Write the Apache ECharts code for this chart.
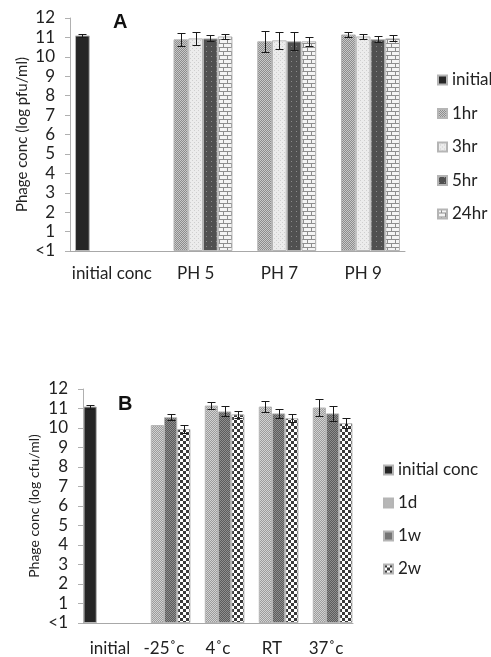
<!DOCTYPE html>
<html><head><meta charset="utf-8">
<script src="https://cdn.jsdelivr.net/npm/echarts@6/dist/echarts.min.js"></script>
<style>html,body{margin:0;padding:0;background:#fff}#c{width:491px;height:657px}</style>
</head><body><div id="c"></div>
<script>
// ---------- Data ----------
const catsA = ['initial conc', 'PH 5', 'PH 7', 'PH 9'];
const namesA = ['initial', '1hr', '3hr', '5hr', '24hr'];
const valA_initial = [11.1, null, null, null];
const valA_1hr  = [null, 10.9, 10.8, 11.15];
const valA_3hr  = [null, 10.95, 10.85, 11.05];
const valA_5hr  = [null, 10.95, 10.8, 10.9];
const valA_24hr = [null, 11.05, 10.8, 10.95];
const errA_initial = [0.1, null, null, null];
const errA_1hr  = [null, 0.35, 0.55, 0.15];
const errA_3hr  = [null, 0.33, 0.45, 0.15];
const errA_5hr  = [null, 0.15, 0.47, 0.15];
const errA_24hr = [null, 0.13, 0.22, 0.15];

const catsB = ['initial', '-25˚c', '4˚c', 'RT', '37˚c'];
const namesB = ['initial conc', '1d', '1w', '2w'];
const valB_initial = [11.1, null, null, null, null];
const valB_1d = [null, 10.15, 11.15, 11.1, 11.05];
const valB_1w = [null, 10.55, 10.85, 10.75, 10.75];
const valB_2w = [null, 9.95, 10.7, 10.5, 10.25];
const errB_initial = [0.1, null, null, null, null];
const errB_1d = [null, 0, 0.17, 0.3, 0.45];
const errB_1w = [null, 0.15, 0.26, 0.23, 0.38];
const errB_2w = [null, 0.22, 0.17, 0.2, 0.25];

const yTicks = ['<1', '1', '2', '3', '4', '5', '6', '7', '8', '9', '10', '11', '12'];

// ---------- Patterns ----------
function pat(w, h, draw) {
  const c = document.createElement('canvas'); c.width = w; c.height = h;
  const g = c.getContext('2d'); draw(g, w, h);
  return { image: c, repeat: 'repeat' };
}
function checker(a, b, s) {
  return pat(2 * s, 2 * s, (g) => {
    g.fillStyle = a; g.fillRect(0, 0, 2 * s, 2 * s);
    g.fillStyle = b; g.fillRect(0, 0, s, s); g.fillRect(s, s, s, s);
  });
}
const fillInitial = '#262626';
const fill1hr = checker('#8c8c8c', '#c9c9c9', 1);
const fill3hr = pat(4, 4, (g) => { g.fillStyle = '#ececec'; g.fillRect(0, 0, 4, 4); g.fillStyle = '#cfcfcf'; g.fillRect(0, 0, 1, 1); g.fillRect(2, 2, 1, 1); });
const fill5hr = pat(5, 5, (g) => { g.fillStyle = '#505050'; g.fillRect(0, 0, 5, 5); g.fillStyle = '#8a8a8a'; g.fillRect(1, 1, 1, 1); });
const fill24hr = pat(8, 8, (g) => {
  g.fillStyle = '#f4f4f4'; g.fillRect(0, 0, 8, 8);
  g.fillStyle = '#8e8e8e';
  g.fillRect(0, 3, 8, 1); g.fillRect(0, 7, 8, 1);
  g.fillRect(3, 0, 1, 3); g.fillRect(7, 4, 1, 3);
});
const fill1d = checker('#9c9c9c', '#d2d2d2', 1);
const fill1w = checker('#5c5c5c', '#8e8e8e', 1);
const fill2w = checker('#ffffff', '#3a3a3a', 3);

const fillsA = [fillInitial, fill1hr, fill3hr, fill5hr, fill24hr];
const fillsB = [fillInitial, fill1d, fill1w, fill2w];
const valsA = [valA_initial, valA_1hr, valA_3hr, valA_5hr, valA_24hr];
const errsA = [errA_initial, errA_1hr, errA_3hr, errA_5hr, errA_24hr];
const valsB = [valB_initial, valB_1d, valB_1w, valB_2w];
const errsB = [errB_initial, errB_1d, errB_1w, errB_2w];

const FONT = 'Lato';
const TXT = '#222';
const gapA = 0.12, gapB = 0.02;

function errSeries(vals, errs, idx, n, gap, axisIdx, nm) {
  const data = [];
  vals.forEach((v, i) => { if (v != null && errs[i] != null) data.push([i, v, errs[i]]); });
  return {
    type: 'custom', name: nm, xAxisIndex: axisIdx, yAxisIndex: axisIdx, z: 10,
    silent: true, data: data, encode: { x: 0, y: 1 },
    renderItem: function (params, api) {
      const x = api.value(0), y = api.value(1), e = api.value(2);
      if (!e) return null;
      const band = api.size([1, 0])[0];
      const bw = band * (1 - gap) / n;
      const off = -band * (1 - gap) / 2 + bw * (idx + 0.5);
      const t = api.coord([x, y + e]), b = api.coord([x, y - e]);
      const cx = Math.round(t[0] + off) + 0.5;
      const ty = Math.round(t[1]) + 0.5, by = Math.round(b[1]) + 0.5;
      const cw = 4;
      const st = { stroke: '#1a1a1a', lineWidth: 1, fill: null };
      return { type: 'group', children: [
        { type: 'line', shape: { x1: cx, y1: ty, x2: cx, y2: by }, style: st },
        { type: 'line', shape: { x1: cx - cw, y1: ty, x2: cx + cw, y2: ty }, style: st },
        { type: 'line', shape: { x1: cx - cw, y1: by, x2: cx + cw, y2: by }, style: st }
      ]};
    }
  };
}

const series = [];
namesA.forEach((nm, i) => {
  series.push({ type: 'bar', name: nm, xAxisIndex: 0, yAxisIndex: 0, data: valsA[i],
    barGap: '0%', barCategoryGap: (gapA * 100) + '%',
    itemStyle: { color: fillsA[i], borderColor: '#b5b5b5', borderWidth: 1 } });
});
namesA.forEach((nm, i) => series.push(errSeries(valsA[i], errsA[i], i, namesA.length, gapA, 0, 'errA' + i)));
namesB.forEach((nm, i) => {
  series.push({ type: 'bar', name: nm, xAxisIndex: 1, yAxisIndex: 1, data: valsB[i],
    barGap: '0%', barCategoryGap: (gapB * 100) + '%',
    itemStyle: { color: fillsB[i], borderColor: '#b5b5b5', borderWidth: 1 } });
});
namesB.forEach((nm, i) => series.push(errSeries(valsB[i], errsB[i], i, namesB.length, gapB, 1, 'errB' + i)));

function yAx(gridIndex, name, gap, nameSize) {
  return {
    type: 'value', gridIndex: gridIndex, min: 0, max: 12, interval: 1,
    name: name, nameLocation: 'middle', nameRotate: 90, nameGap: gap,
    nameMoveOverlap: false,
    nameTextStyle: { fontFamily: FONT, fontSize: nameSize, color: TXT },
    axisLine: { show: true, lineStyle: { color: '#b0b0b0' } },
    axisTick: { show: true, length: 5, lineStyle: { color: '#b0b0b0' } },
    splitLine: { show: false },
    axisLabel: { fontFamily: FONT, fontSize: 17, color: TXT, margin: 15,
      formatter: (v) => yTicks[Math.round(v)] }
  };
}
function xAx(gridIndex, cats, margin) {
  return {
    type: 'category', gridIndex: gridIndex, data: cats,
    axisLine: { show: true, lineStyle: { color: '#a8a8a8' } },
    axisTick: { show: false },
    axisLabel: { fontFamily: FONT, fontSize: 17, color: TXT, margin: margin, interval: 0 }
  };
}

const option = {
  animation: false,
  backgroundColor: '#fff',
  grid: [
    { left: 70, top: 18, width: 335, height: 233 },
    { left: 83, top: 389, width: 270, height: 235 }
  ],
  xAxis: [xAx(0, catsA, 14), xAx(1, catsB, 17)],
  yAxis: [yAx(0, 'Phage conc (log pfu/ml)', 40, 15), yAx(1, 'Phage conc (log cfu/ml)', 42, 14)],
  legend: [
    { data: namesA, orient: 'vertical', left: 432, top: 66, itemWidth: 9, itemHeight: 9,
      itemGap: 15.5, icon: 'rect',
      textStyle: { fontFamily: FONT, fontSize: 17, color: TXT, lineHeight: 18 } },
    { data: namesB, orient: 'vertical', left: 378, top: 456, itemWidth: 9, itemHeight: 9,
      itemGap: 15, icon: 'rect',
      textStyle: { fontFamily: FONT, fontSize: 17, color: TXT, lineHeight: 18 } }
  ],
  title: [
    { text: 'A', left: 113, top: 12, padding: 0, textStyle: { fontFamily: 'Liberation Sans', fontWeight: 'bold', fontSize: 20, color: '#111' } },
    { text: 'B', left: 118, top: 394, padding: 0, textStyle: { fontFamily: 'Liberation Sans', fontWeight: 'bold', fontSize: 20, color: '#111' } }
  ],
  series: series
};
const chart = echarts.init(document.getElementById('c'), null, { renderer: 'canvas' });
chart.setOption(option);
</script></body></html>
